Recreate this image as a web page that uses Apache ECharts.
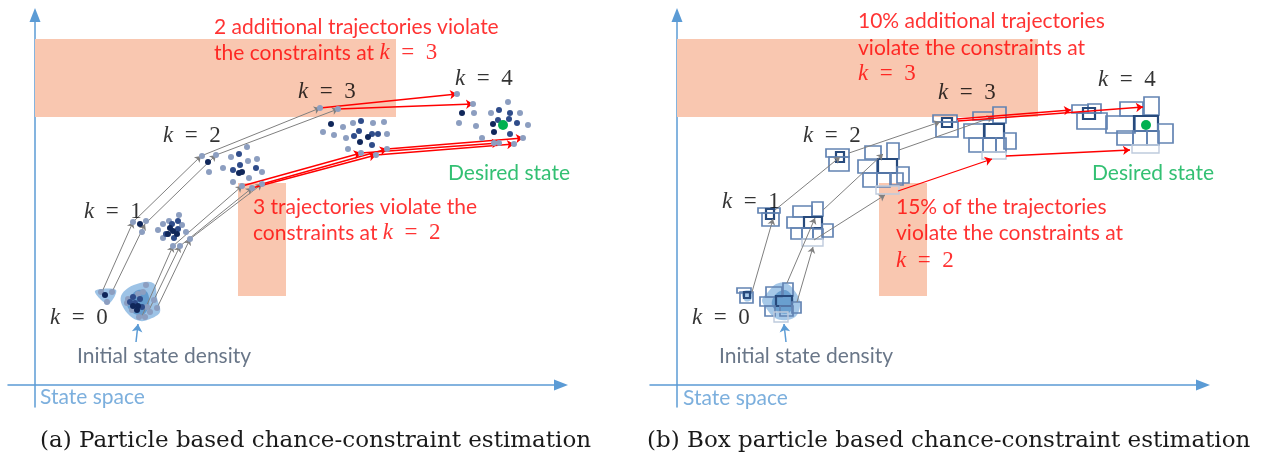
<!DOCTYPE html>
<html><head><meta charset="utf-8">
<script src="https://cdn.jsdelivr.net/npm/echarts@6/dist/echarts.min.js"></script>
<style>html,body{margin:0;padding:0;background:#fff}#c{width:1263px;height:463px}</style>
</head><body><div id="c"></div>
<script>
// ===== DATA (state-space coordinates, origin at the axes crossing) =====
// constraint (infeasible) regions [x1, y1, x2, y2]
const constraintsA = [[0,268,361,346],[203,89,251,202]];
const constraintsB = [[0,268,361,346],[202,89,250,202]];

// initial state density regions (polygons)
const densityOuterA = [
  [[86,89],[93,97],[105,102],[115,103],[120,100],[122,87],[125,73],[115,66],[105,64],[95,69],[87,80]],
  [[60,94],[81,95],[73,81]]
];
const densityCoreA = [[[95,88],[103,95],[112,93],[114,80],[108,70],[98,72],[92,80]]];
const densityOuterB = [
  [[91,93],[99,101],[109,102],[117,95],[123,83],[120,70],[110,65],[98,67],[89,77],[85,85]],
  [[65,93],[75,94],[74,85],[68,84]]
];
const densityCoreB = [[[98,90],[108,95],[116,87],[113,73],[103,72],[95,80]]];

// particles (panel a) by weight class
const particlesLightA = [
  [66,93],[77,93],[72,83],[111,100],[108,93],[103,91],[93,86],[119,85],[92,82],[112,78],[122,77],[110,68],[104,68],[97,75],[115,73],
  [98,163],[111,164],[107,153],[144,170],[128,161],[123,155],[128,147],[151,153],[145,139],[138,139],[155,146],[134,164],[147,160],
  [167,229],[181,230],[196,228],[212,238],[222,226],[174,213],[188,217],[227,213],[214,207],[198,203],[207,199],[217,197],[227,201],[213,224],
  [285,277],[303,276],[288,253],[299,250],[308,258],[318,262],[338,262],[349,263],[311,247],[352,251],[313,236],[326,232],[341,230],[352,236],
  [422,291],[438,281],[439,272],[424,262],[441,259],[447,247],[456,272],[473,283],[485,272],[493,260],[464,242],[479,241],[488,247],[459,242]
];
const particlesMidA = [
  [98,88],[105,86],[100,82],[95,83],[107,78],
  [143,164],[137,161],[143,156],[131,151],[139,147],
  [204,231],[198,215],[221,217],[205,220],
  [326,264],[324,254],[337,251],[343,251],[337,240],[319,249],
  [464,275],[463,265],[475,272],[474,266],[482,262],[475,251]
];
const particlesDarkA = [
  [70,90],[98,79],[103,79],[102,75],
  [105,161],[135,157],[138,154],[133,151],[142,151],
  [173,223],[204,212],[207,213],
  [296,261],[333,248],[325,243],
  [427,272],[458,261],[459,253]
];
const desiredA = [[468,260]];
const desiredB = [[469,260]];

// particle trajectories (panel a), k = 0..4, and step at which each violates
const trajectoriesA = [
  [[67,93],[98,163],[166,229],[285,277],[422,291]],
  [[77,93],[110,161],[181,230],[303,276],[438,281]],
  [[107,69],[138,139],[207,199],[326,232],[464,242]],
  [[114,75],[145,139],[217,197],[341,230],[479,241]],
  [[122,77],[155,146],[227,201],[352,236],[488,247]]
];
const violationStepA = [3,3,2,2,2];

// box particles (panel b): [x1, yTop, x2, yBottom, weight 0..2]
const boxesB = [
  [60,97,74,92,1],[63,93,76,82,1],[67,93,73,87,2],
  [89,98,105,88,1],[106,102,116,89,1],[83,88,99,79,1],[99,89,115,79,2],[115,83,124,72,1],[88,79,98,69,1],[103,79,116,69,1],[97,73,111,63,0],
  [81,177,103,172,1],[89,176,97,166,2],[85,172,102,159,1],
  [116,179,135,168,1],[135,183,146,169,1],[110,168,127,157,1],[127,168,145,157,2],[145,161,156,148,1],[114,157,125,146,1],[125,157,136,146,1],[136,156,146,146,1],[125,146,146,139,0],
  [149,236,172,228,1],[159,233,167,223,2],[152,228,172,214,1],
  [188,239,204,226,1],[210,242,222,226,1],[181,225,200,212,1],[201,226,220,212,2],[220,218,232,202,1],[186,212,200,198,1],[200,212,213,198,1],[214,212,226,200,1],[199,199,222,191,0],
  [256,270,280,263,1],[265,267,275,258,2],[259,263,281,248,1],
  [296,273,316,265,1],[316,278,329,262,1],[287,261,308,247,1],[307,261,327,247,2],[327,252,339,236,1],[292,247,306,233,1],[306,247,319,233,1],[319,247,329,233,1],[305,233,329,226,0],
  [395,280,411,272,1],[411,281,424,272,1],[406,277,418,266,2],[400,272,430,256,1],[429,269,458,252,1],[443,283,466,269,1],[467,288,482,270,1],[457,269,481,254,2],[481,261,496,242,1],[440,254,456,240,1],[456,254,470,240,1],[470,254,482,240,1],[455,240,482,232,0]
];
// box trajectories (panel b): [x1, y1, x2, y2] and violation flag
const segmentsB = [
  [75,93,96,166],[98,175,163,228],[172,232,263,263],[110,102,138,167],[120,83,136,138],[146,175,206,231],[137,145,208,190],[222,235,316,268],
  [280,266,394,275],[281,264,466,278],[221,194,315,226],[329,229,453,235]
];
const violatedB = [0,0,0,0,0,0,0,0,1,1,1,1];

// pointer to the initial density [from, to]
const initArrowA = [[101,43],[103,61]];
const initArrowB = [[109,43],[107,61]];

// text anchors
const kLabelsA = [[15,67,0],[49,173,1],[128,249,2],[263,293,3],[420,306,4]];
const kLabelsB = [[15,67,0],[45,183,1],[126,249,2],[261,292,3],[421,305,4]];
const notesA = [
  [179,358,'2 additional trajectories violate',null],
  [179,332,'the constraints at ',3],
  [218,178,'3 trajectories violate the',null],
  [218,152,'constraints at ',2]
];
const notesB = [
  [181,364,'10% additional trajectories',null],
  [181,337,'violate the constraints at',null],
  [181,311,'',3],
  [219,178,'15% of the trajectories',null],
  [219,152,'violate the constraints at',null],
  [219,124,'',2]
];
const desiredLabelA = [[413,212,'Desired state']];
const desiredLabelB = [[415,212,'Desired state']];
const initLabelA = [[42,29,'Initial state density']];
const initLabelB = [[42,29,'Initial state density']];
const axisLabelA = [[5,-12,'State space']];
const axisLabelB = [[6,-13,'State space']];
const captions = ['(a) Particle based chance-constraint estimation','(b) Box particle based chance-constraint estimation'];

// ===== CHART =====
const SANS = 'Lato';
const SERIF = 'Liberation Serif';
const chart = echarts.init(document.getElementById('c'), null, {renderer:'canvas'});

function xAx(i){return {gridIndex:i,type:'value',min:-27,max:526,
  axisLine:{onZero:true,lineStyle:{color:'#5B9BD5',width:1.5},symbol:['none','triangle'],symbolSize:[11,14]},
  axisTick:{show:false},axisLabel:{show:false},splitLine:{show:false}};}
function yAx(i){return {gridIndex:i,type:'value',min:-22,max:370,
  axisLine:{onZero:true,lineStyle:{color:'#5B9BD5',width:1.5},symbol:['none','triangle'],symbolSize:[11,14]},
  axisTick:{show:false},axisLabel:{show:false},splitLine:{show:false}};}

function rectSeries(g, arr){
  return {type:'custom',xAxisIndex:g,yAxisIndex:g,z:1,silent:true,data:arr,
    renderItem:(p,api)=>{const a=api.coord([api.value(0),api.value(3)]);const b=api.coord([api.value(2),api.value(1)]);
      return {type:'rect',shape:{x:a[0],y:a[1],width:b[0]-a[0],height:b[1]-a[1]},style:{fill:'#F9C7B0'}};}};
}
function polySeries(g, polys, color, opacity, z){
  return {type:'custom',xAxisIndex:g,yAxisIndex:g,z:z,silent:true,data:polys.map(p=>p[0]),
    renderItem:(p,api)=>({type:'polygon',shape:{points:polys[p.dataIndex].map(pt=>api.coord(pt)),smooth:0.35},style:{fill:color,opacity:opacity}})};
}
function dotSeries(g, arr, color, size, z){
  return {type:'scatter',xAxisIndex:g,yAxisIndex:g,z:z,silent:true,data:arr,symbolSize:size,itemStyle:{color:color,opacity:1}};
}
function lineSeries(g, segs, color, width, size, z){
  return {type:'lines',coordinateSystem:'cartesian2d',xAxisIndex:g,yAxisIndex:g,z:z,silent:true,
    symbol:['none','arrow'],symbolSize:size,lineStyle:{color:color,width:width,opacity:1},
    data:segs.map(s=>({coords:[[s[0],s[1]],[s[2],s[3]]]}))};
}
function textSeries(g, items, fmt, style, rich){
  return {type:'scatter',xAxisIndex:g,yAxisIndex:g,z:10,silent:true,symbolSize:0,
    data:items.map(it=>[it[0],it[1]]),
    label:Object.assign({show:true,position:'right',distance:0,formatter:p=>fmt(items[p.dataIndex]),rich:rich||{}},style)};
}
const kRich = (color)=>({
  k:{fontFamily:SERIF,fontStyle:'italic',fontSize:23,color:color},
  n:{fontFamily:SERIF,fontSize:23,color:color},
  t:{fontFamily:SANS,fontSize:21,color:color}
});
const kFmt = it=>'{k|k}{n|\u2002=\u2002'+it[2]+'}';
const noteFmt = it=>(it[3]===null?'{t|'+it[2]+'}':((it[2]?'{t|'+it[2]+'}':'')+'{k|k}{n|\u2002=\u2002'+it[3]+'}'));

// trajectories of panel a split into segments
const grayA=[], redA=[];
trajectoriesA.forEach((tr,i)=>{for(let k=0;k<tr.length-1;k++){const s=[tr[k][0],tr[k][1],tr[k+1][0],tr[k+1][1]];(k>=violationStepA[i]?redA:grayA).push(s);}});
const grayB=segmentsB.filter((s,i)=>!violatedB[i]), redB=segmentsB.filter((s,i)=>violatedB[i]);

const boxColors=['#BFCBDD','#6384B3','#274A7C'];
const boxWidths=[1.4,1.7,2.2];
function boxSeries(g, arr){
  return {type:'custom',xAxisIndex:g,yAxisIndex:g,z:3,silent:true,data:arr,
    renderItem:(p,api)=>{const a=api.coord([api.value(0),api.value(1)]);const b=api.coord([api.value(2),api.value(3)]);const w=api.value(4);
      return {type:'rect',shape:{x:a[0],y:a[1],width:b[0]-a[0],height:b[1]-a[1]},style:{fill:'none',stroke:boxColors[w],lineWidth:boxWidths[w]}};}};
}

const series=[];
[0,1].forEach(g=>{
  const isA=g===0;
  series.push(rectSeries(g,isA?constraintsA:constraintsB));
  series.push(polySeries(g,isA?densityOuterA:densityOuterB,'#5B9BD5',isA?0.6:0.55,2));
  series.push(polySeries(g,isA?densityCoreA:densityCoreB,'#2E75B6',0.5,2));
  if(isA){
    series.push(lineSeries(g,grayA,'#808080',1,6,4));
    series.push(lineSeries(g,redA,'#FF0000',1.3,7,4));
    series.push(dotSeries(g,particlesLightA,'#8C9EC0',6,5));
    series.push(dotSeries(g,particlesMidA,'#2F4C8A',6,5));
    series.push(dotSeries(g,particlesDarkA,'#10275A',6,5));
    series.push(dotSeries(g,desiredA,'#00B050',10,6));
  } else {
    series.push(boxSeries(g,boxesB));
    series.push(lineSeries(g,grayB,'#808080',1,6,4));
    series.push(lineSeries(g,redB,'#FF0000',1.3,7,4));
    series.push(dotSeries(g,desiredB,'#00B050',10,6));
  }
  const ia=isA?initArrowA:initArrowB;
  series.push(lineSeries(g,[[ia[0][0],ia[0][1],ia[1][0],ia[1][1]]],'#5B9BD5',1.5,8,4));
  series.push(textSeries(g,isA?kLabelsA:kLabelsB,kFmt,{},kRich('#000')));
  series.push(textSeries(g,isA?notesA:notesB,noteFmt,{},kRich('#FF0000')));
  series.push(textSeries(g,isA?desiredLabelA:desiredLabelB,it=>it[2],{fontFamily:SANS,fontSize:21,color:'#00B050'}));
  series.push(textSeries(g,isA?initLabelA:initLabelB,it=>it[2],{fontFamily:SANS,fontSize:21,color:'#44546A'}));
  series.push(textSeries(g,isA?axisLabelA:axisLabelB,it=>it[2],{fontFamily:SANS,fontSize:21,color:'#5B9BD5'}));
});

chart.setOption({
  animation:false,
  backgroundColor:'#fff',
  grid:[{left:8,top:15,width:553,height:392},{left:650,top:15,width:553,height:392}],
  xAxis:[xAx(0),xAx(1)],
  yAxis:[yAx(0),yAx(1)],
  graphic:[
    {type:'text',left:40,top:430,style:{text:captions[0],font:'23px "DejaVu Serif"',fill:'#1a1a1a'}},
    {type:'text',left:647,top:430,style:{text:captions[1],font:'23px "DejaVu Serif"',fill:'#1a1a1a'}}
  ],
  series:series
});
</script></body></html>
